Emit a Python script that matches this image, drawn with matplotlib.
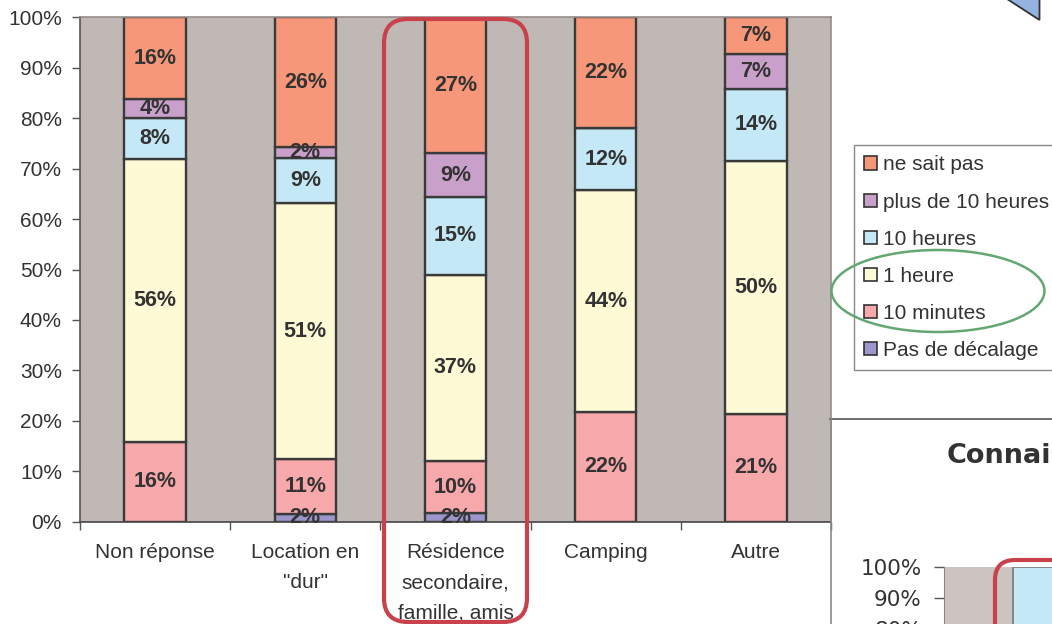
import matplotlib
matplotlib.use("Agg")
import matplotlib.pyplot as plt
from matplotlib.patches import Patch, FancyBboxPatch, Ellipse, Polygon
from matplotlib.lines import Line2D
from matplotlib.transforms import Affine2D
import numpy as np

# ---------------- data ----------------
categories = ["Non réponse", "Location en\n\"dur\"", "Résidence\nsecondaire,\nfamille, amis",
              "Camping", "Autre"]
series_names = ["Pas de décalage", "10 minutes", "1 heure", "10 heures",
                "plus de 10 heures", "ne sait pas"]
pas_decalage = [0.0, 1.5, 1.7, 0.0, 0.0]
dix_minutes = [15.8, 10.9, 10.3, 21.7, 21.3]
une_heure = [56.2, 50.7, 37.0, 44.1, 50.3]
dix_heures = [8.0, 9.1, 15.4, 12.2, 14.1]
plus_dix_heures = [3.8, 2.1, 8.6, 0.0, 7.0]
ne_sait_pas = [16.2, 25.7, 27.0, 22.0, 7.3]
yticks = [0, 10, 20, 30, 40, 50, 60, 70, 80, 90, 100]

# second (partially visible) chart
title2 = "Connais"
values2 = [100.0]
yticks2 = [80, 90, 100]

colors = ["#9B97CB", "#F7A8AA", "#FFFAD6", "#C5E8F7", "#C9A0CA", "#F7977A"]
series = [pas_decalage, dix_minutes, une_heure, dix_heures, plus_dix_heures, ne_sait_pas]

W, H = 1052, 624
fig = plt.figure(figsize=(W / 100, H / 100), dpi=100)
fig.patch.set_facecolor("white")

# pixel transform (origin top-left)
pxT = Affine2D().scale(1 / W, -1 / H).translate(0, 1) + fig.transFigure

TXT = "#333333"
SANS = ["Liberation Sans", "DejaVu Sans"]
FS = 15

# ---------------- main chart ----------------
x0, x1, ytop, ybot = 80, 831, 17.3, 521.7
ax = fig.add_axes([x0 / W, 1 - ybot / H, (x1 - x0) / W, (ybot - ytop) / H])
ax.set_facecolor("#C0B8B5")
x = np.arange(len(categories))
bottom = np.zeros(len(categories))
bw = 0.41
for name, vals, col in zip(series_names, series, colors):
    vals = np.array(vals)
    ax.bar(x, vals, bw, bottom=bottom, color=col, edgecolor="#3a3a3a", linewidth=1.7,
           label=name, zorder=2)
    for xi, b, v in zip(x, bottom, vals):
        if v > 0:
            ax.text(xi, b + v / 2, f"{v:.0f}%", ha="center", va="center",
                    fontsize=15.5, fontweight="bold", color=TXT, family=SANS, zorder=3)
    bottom += vals

ax.set_xlim(-0.5, len(categories) - 0.5)
ax.set_ylim(0, 100)
ax.set_yticks(yticks)
ax.set_yticklabels([f"{t}%" for t in yticks], family=SANS, fontsize=FS, color=TXT)
ax.set_xticks(x)
ax.set_xticklabels(categories, family=SANS, fontsize=FS, color=TXT, linespacing=1.75,
                   va="top")
ax.set_xticks(np.arange(-0.5, len(categories)), minor=True)
ax.tick_params(axis="x", which="major", length=0, pad=15.5)
ax.tick_params(axis="x", which="minor", length=6, width=1, color="#555555", direction="out")
ax.tick_params(axis="y", length=6, width=1, color="#555555", pad=7)
ax.spines["left"].set_color("#555555")
ax.spines["bottom"].set_color("#444444")
ax.spines["top"].set_color("#968d8a")
ax.spines["right"].set_color("#968d8a")
for s in ax.spines.values():
    s.set_linewidth(1.2)

# legend
handles = [Patch(facecolor=c, edgecolor="#333333", linewidth=1.2) for c in colors][::-1]
labels = series_names[::-1]
leg = fig.legend(handles, labels, loc="upper left", bbox_to_anchor=(854 / W, 1 - 145 / H),
                 frameon=True, fancybox=False, edgecolor="#888888", framealpha=1,
                 borderaxespad=0, borderpad=0.5, handlelength=0.6, handleheight=0.6,
                 handletextpad=0.3, labelspacing=0.87,
                 prop={"family": SANS, "size": FS})
leg.set_zorder(5)
for t in leg.get_texts():
    t.set_color(TXT)
leg.get_frame().set_linewidth(1.0)

# ---------------- second (cropped) chart ----------------
fig.add_artist(Line2D([830, 1060], [419, 419], transform=pxT, color="#555555", lw=1.2))
fig.add_artist(Line2D([830.5, 830.5], [419, 630], transform=pxT, color="#8a8a8a", lw=1.2))
fig.text(947 / W, 1 - 463 / H, title2, ha="left", va="baseline", fontsize=19.5,
         fontweight="bold", color=TXT, family="DejaVu Sans")

slot = 234.0
ax2_top, ax2_bot = 567, 877
ax2 = fig.add_axes([944 / W, 1 - ax2_bot / H, 2 * slot / W, (ax2_bot - ax2_top) / H])
ax2.set_facecolor("#CBC4C1")
ax2.bar([0], values2, bw, color="#C5E8F7", edgecolor="#777777", linewidth=1.2)
ax2.set_xlim(-0.5, 1.5)
ax2.set_ylim(0, 100)
ax2.set_yticks(yticks2)
ax2.set_yticklabels([f"{t}%" for t in yticks2], family="DejaVu Sans", fontsize=15.5, color=TXT)
ax2.set_xticks([])
ax2.tick_params(axis="y", length=7, width=1, color="#555555", pad=9)
for k in ["top", "right", "bottom"]:
    ax2.spines[k].set_visible(False)
ax2.spines["left"].set_color("#888888")

# ---------------- annotations ----------------
red = "#C8414B"
fig.add_artist(FancyBboxPatch((384, 19), 143, 603,
                              boxstyle="round,pad=0,rounding_size=24",
                              transform=pxT, fill=False, edgecolor=red, linewidth=3.0,
                              zorder=10))
fig.add_artist(FancyBboxPatch((995, 560), 220, 200,
                              boxstyle="round,pad=0,rounding_size=20",
                              transform=pxT, fill=False, edgecolor=red, linewidth=3.0,
                              zorder=10))
fig.add_artist(Ellipse((938, 291), 213, 82, transform=pxT, fill=False,
                       edgecolor="#62A870", linewidth=1.8, zorder=10))
fig.add_artist(Polygon([(1004, -3), (1039.5, 20), (1039.5, -3)], closed=True,
                       transform=pxT, facecolor="#95B3E0", edgecolor="#333333",
                       linewidth=1.3, zorder=10))

fig.savefig("out.png", dpi=100)
